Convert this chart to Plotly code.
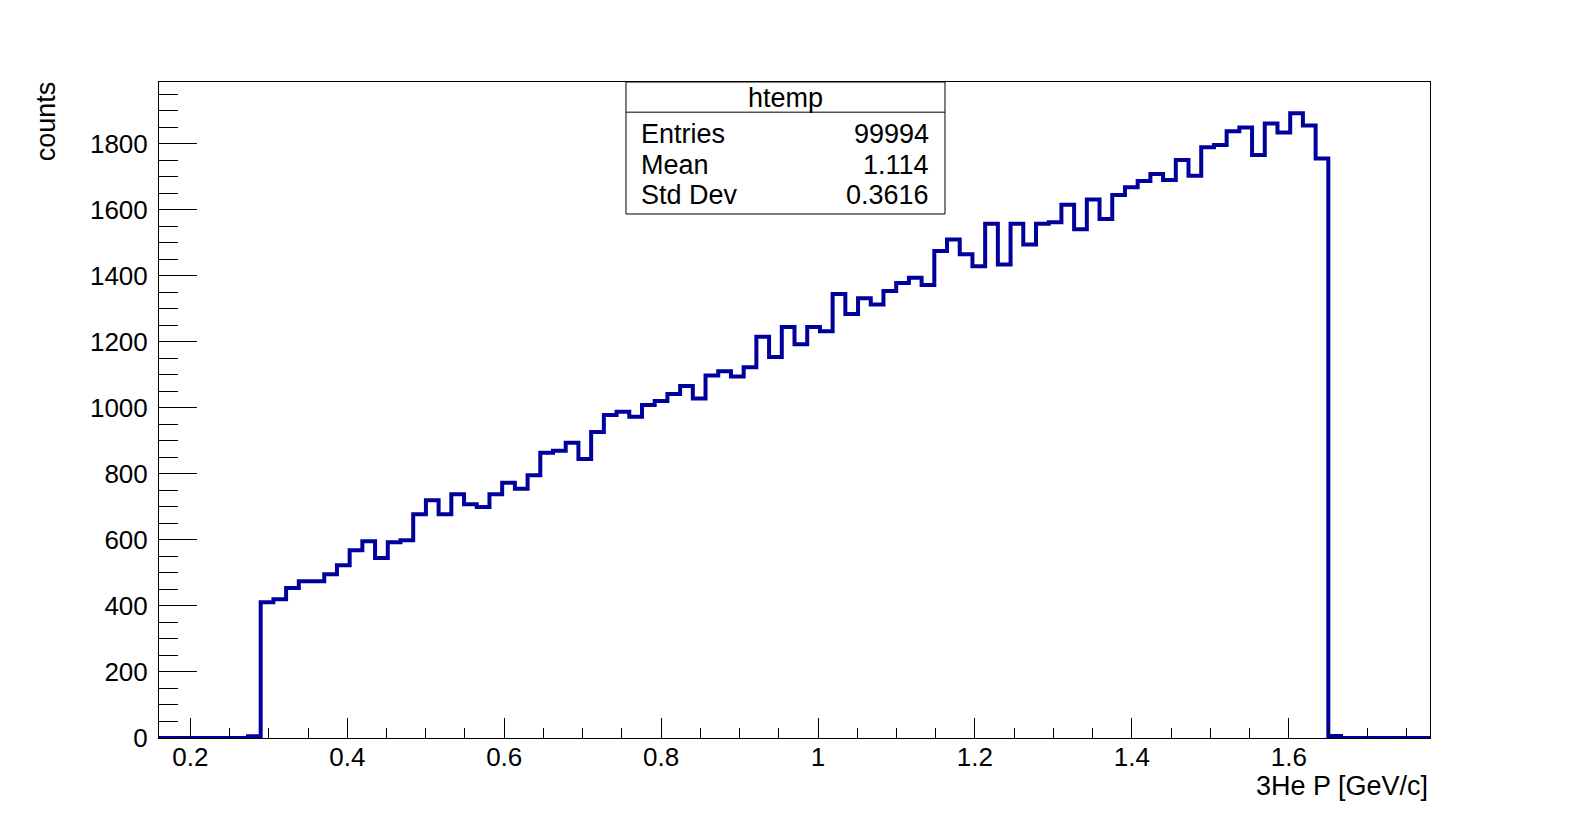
#!/usr/bin/env python3
"""ROOT-style histogram of 3He momentum (htemp), redrawn with plotly."""

import numpy as np
import plotly.graph_objects as go

# histogram definition (100 bins, as TTree::Draw makes for htemp)
x_min, x_max, n_bins = 0.16, 1.78, 100

# bin contents, bin 0 .. bin 99
counts = [
    0, 0, 0, 0, 0, 0, 0, 5,
    411, 420, 454, 475, 475, 496, 523, 569, 596, 545,
    593, 599, 678, 720, 678, 738, 708, 700, 738, 773,
    755, 796, 864, 870, 894, 845, 927, 978, 988, 973,
    1009, 1021, 1042, 1066, 1028, 1098, 1111, 1095, 1123, 1215,
    1154, 1245, 1193, 1245, 1232, 1345, 1284, 1332, 1313, 1354,
    1378, 1394, 1372, 1475, 1510, 1465, 1429, 1558, 1434, 1558,
    1495, 1558, 1562, 1615, 1541, 1631, 1572, 1645, 1668, 1687,
    1708, 1690, 1751, 1703, 1789, 1796, 1838, 1849, 1766, 1861,
    1834, 1892, 1855, 1755,
    6, 0, 0, 0, 0, 0, 0, 0,
]

stats_title = "htemp"
stats_labels = ["Entries", "Mean", "Std Dev"]
stats_values = ["99994", "1.114", "0.3616"]

x_title = "3He P [GeV/c]"
y_title = "counts"
y_max = 1987

edges = np.linspace(x_min, x_max, n_bins + 1)
step_y = counts + [counts[-1]]

font = "Liberation Sans, Arial, sans-serif"

fig = go.Figure()
fig.add_trace(
    go.Scatter(
        x=edges,
        y=step_y,
        mode="lines",
        line=dict(color="#00009c", width=4, shape="hv"),
        showlegend=False,
        hoverinfo="skip",
    )
)

axis_common = dict(
    showline=True, linecolor="black", linewidth=1, mirror=True,
    showgrid=False, zeroline=False,
    ticks="inside", tickcolor="black", tickwidth=1,
    tickfont=dict(family=font, size=26, color="black"),
)

fig.update_xaxes(
    range=[x_min, x_max],
    tick0=0.2, dtick=0.2, ticklen=20,
    minor=dict(dtick=0.05, tick0=0.2, ticks="inside", ticklen=10,
               tickcolor="black", showgrid=False),
    ticklabelstandoff=-4,
    **axis_common,
)
fig.update_yaxes(
    range=[0, y_max],
    tick0=0, dtick=200, ticklen=38,
    minor=dict(dtick=50, tick0=0, ticks="inside", ticklen=19,
               tickcolor="black", showgrid=False),
    ticklabelstandoff=5,
    **axis_common,
)

# stats box (TPaveStats), its top on the frame top
bx0, bx1, by0, by1, sep = 0.3674, 0.6184, 0.7988, 1.0, 0.954
fig.add_shape(type="rect", xref="paper", yref="paper",
              x0=bx0, x1=bx1, y0=by0, y1=by1,
              line=dict(color="black", width=1), fillcolor="white")
fig.add_shape(type="line", xref="paper", yref="paper",
              x0=bx0, x1=bx1, y0=sep, y1=sep,
              line=dict(color="black", width=1))

text_font = dict(family=font, size=27, color="black")
fig.add_annotation(x=(bx0 + bx1) / 2, y=0.9756, xref="paper", yref="paper",
                   text=stats_title, showarrow=False, font=text_font,
                   xanchor="center", yanchor="middle")
row_y = [0.9207, 0.8735, 0.8277]
for lab, val, yy in zip(stats_labels, stats_values, row_y):
    fig.add_annotation(x=0.3775, y=yy, xref="paper", yref="paper",
                       text=lab, showarrow=False, font=text_font,
                       xanchor="left", yanchor="middle")
    fig.add_annotation(x=0.6075, y=yy, xref="paper", yref="paper",
                       text=val, showarrow=False, font=text_font,
                       xanchor="right", yanchor="middle")

# axis titles, right-aligned the ROOT way
fig.add_annotation(x=1.0, y=-0.073, xref="paper", yref="paper",
                   text=x_title, showarrow=False, font=text_font,
                   xanchor="right", yanchor="middle")
fig.add_annotation(x=-0.0893, y=1.005, xref="paper", yref="paper",
                   text=y_title, showarrow=False, font=text_font,
                   textangle=-90, xanchor="center", yanchor="top")

fig.update_layout(
    width=1589, height=820,
    margin=dict(l=159, r=159, t=82, b=82),
    paper_bgcolor="white", plot_bgcolor="white",
)

fig.write_html("out.html", config={"displayModeBar": False},
               post_script="document.body.style.margin='0px';")
